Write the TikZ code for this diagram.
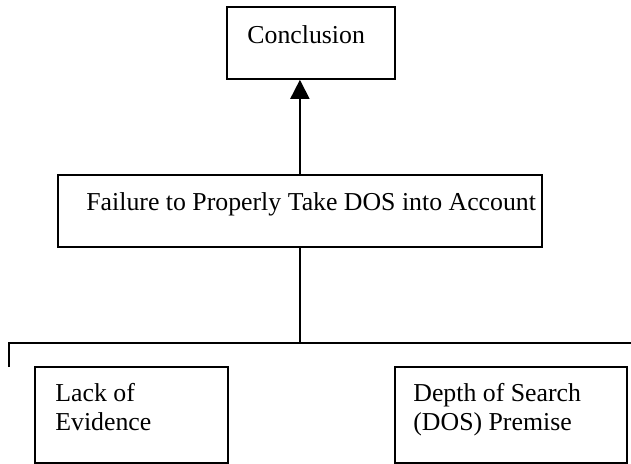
\documentclass[tikz,border=0pt]{standalone}
\usepackage{fontspec}
\setmainfont{Liberation Serif}
\usetikzlibrary{arrows.meta}
\begin{document}
\begin{tikzpicture}[x=1pt,y=1pt,
  box/.style={draw, line width=0.9pt, inner sep=0pt, anchor=north west},
  txt/.style={inner sep=0pt, anchor=north west, align=left,
    font=\fontsize{12.9}{14.5}\selectfont}]
\useasboundingbox (0,0) rectangle (315.5,-231.5);
\pgfmathsetmacro{\h}{-171.5};

\node[box, minimum width=84pt, minimum height=36pt] (concl) at (113,-3) {};
\node[box, minimum width=242pt, minimum height=36pt] (fail) at (28.5,-87) {};
\node[box, minimum width=96.5pt, minimum height=48pt] (lack) at (17,-183) {};
\node[box, minimum width=116pt, minimum height=48pt] (depth) at (197,-183) {};

\node[txt] (conclt) at ([xshift=10.5pt,yshift=-9.5pt]concl.north west) {Conclusion};
\node[txt] (failt) at ([xshift=14.5pt,yshift=-9pt]fail.north west) {Failure to Properly Take DOS into Account};
\node[txt] (lackt) at ([xshift=10.5pt,yshift=-8.5pt]lack.north west) {Lack of\\Evidence};
\node[txt] (deptht) at ([xshift=9.5pt,yshift=-8.5pt]depth.north west) {Depth of Search\\(DOS) Premise};

\coordinate (left) at (4.5,\h);
\coordinate (right) at (315.5,\h);
\coordinate (tick) at (4.5,-183.5);

\draw[line width=0.9pt, -{Triangle[length=9.5pt,width=9.5pt]}] (fail.north) -- (fail.north |- concl.south);
\draw[line width=0.9pt] (fail.south) -- (fail.south |- left);
\draw[line width=0.9pt] (tick) -- (left) -- (right);
\end{tikzpicture}
\end{document}
